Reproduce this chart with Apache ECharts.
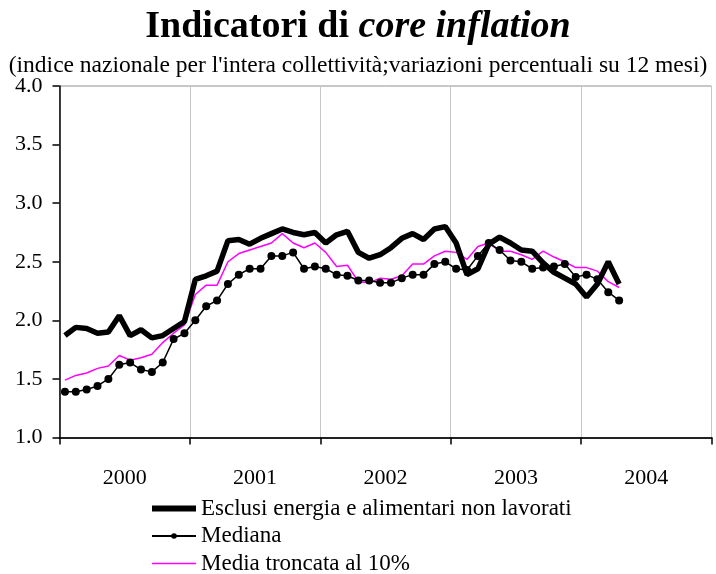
<!DOCTYPE html>
<html>
<head>
<meta charset="utf-8">
<script src="https://cdn.jsdelivr.net/npm/echarts@6/dist/echarts.min.js"></script>
<style>
  html, body { margin: 0; padding: 0; background: #fff; }
  #chart { width: 716px; height: 574px; }
</style>
</head>
<body>
<div id="chart"></div>
<script>
// monthly values, Jan 2000 - Apr 2004
const years = ['2000', '2001', '2002', '2003', '2004']
const yTicks = [1.0, 1.5, 2.0, 2.5, 3.0, 3.5, 4.0]

const esclusi = [
  1.87, 1.94, 1.93, 1.89, 1.90, 2.04, 1.87, 1.92, 1.85, 1.87, 1.93, 1.99,
  2.35, 2.38, 2.42, 2.68, 2.69, 2.65, 2.70, 2.74, 2.78, 2.75, 2.73, 2.75,
  2.66, 2.73, 2.76, 2.58, 2.53, 2.56, 2.62, 2.70, 2.74, 2.69, 2.78, 2.80,
  2.66, 2.39, 2.44, 2.65, 2.71, 2.66, 2.60, 2.59, 2.49, 2.41, 2.36, 2.31,
  2.20, 2.31, 2.50, 2.31
]
const mediana = [
  1.39, 1.39, 1.41, 1.44, 1.50, 1.62, 1.64, 1.58, 1.56, 1.64, 1.84, 1.89,
  2.00, 2.12, 2.17, 2.31, 2.39, 2.44, 2.44, 2.55, 2.55, 2.58, 2.44, 2.46,
  2.44, 2.39, 2.38, 2.34, 2.34, 2.32, 2.32, 2.36, 2.39, 2.39, 2.48, 2.50,
  2.44, 2.43, 2.55, 2.66, 2.60, 2.51, 2.50, 2.44, 2.45, 2.46, 2.48, 2.37,
  2.39, 2.35, 2.24, 2.17
]
const mediaTroncata = [
  1.49, 1.53, 1.55, 1.59, 1.61, 1.70, 1.66, 1.68, 1.71, 1.81, 1.89, 1.96,
  2.22, 2.30, 2.30, 2.50, 2.57, 2.60, 2.63, 2.66, 2.74, 2.66, 2.62, 2.66,
  2.58, 2.46, 2.47, 2.33, 2.32, 2.36, 2.35, 2.38, 2.48, 2.48, 2.55, 2.59,
  2.58, 2.52, 2.63, 2.66, 2.59, 2.59, 2.56, 2.52, 2.59, 2.54, 2.50, 2.45,
  2.45, 2.42, 2.33, 2.28
]

const serif = '"Liberation Serif", "Times New Roman", serif'

// month i sits in the middle of its slot on a 0..60 month scale
function toPoints(values) {
  return values.map((v, i) => [i + 0.5, v])
}

const chart = echarts.init(document.getElementById('chart'))

chart.setOption({
  backgroundColor: '#fff',
  animation: false,
  title: [
    {
      left: 'center',
      top: 3,
      text: '{b|Indicatori di }{bi|core inflation}',
      textStyle: {
        rich: {
          b: { fontFamily: serif, fontSize: 38, fontWeight: 'bold', color: '#000' },
          bi: { fontFamily: serif, fontSize: 38, fontWeight: 'bold', fontStyle: 'italic', color: '#000' },
        },
      },
    },
    {
      left: 'center',
      top: 49,
      text: "(indice nazionale per l'intera collettività;variazioni percentuali su 12 mesi)",
      textStyle: { fontFamily: serif, fontSize: 23.5, fontWeight: 'normal', color: '#000' },
    },
  ],
  legend: {
    orient: 'vertical',
    left: 151,
    top: 497,
    height: 100,
    padding: 0,
    itemWidth: 44,
    itemHeight: 7,
    itemGap: 4.5,
    data: [
      {
        name: 'Esclusi energia e alimentari non lavorati',
        icon: 'path://M0,0 M44,7 M0,0.5 L44,0.5 L44,6.5 L0,6.5 Z',
      },
      { name: 'Mediana' },
      {
        name: 'Media troncata al 10%',
        icon: 'path://M0,0 M44,7 M0,2.75 L44,2.75 L44,4.25 L0,4.25 Z',
      },
    ],
    textStyle: { fontFamily: serif, fontSize: 23, lineHeight: 22, color: '#000' },
  },
  grid: {
    left: 59.5,
    right: 4.5,
    top: 86,
    bottom: 136.5,
    show: true,
    borderColor: '#909090',
    borderWidth: 1,
  },
  xAxis: [
    {
      type: 'value',
      min: 0,
      max: 60,
      interval: 12,
      axisLine: { lineStyle: { color: '#222', width: 2 } },
      axisTick: { show: true, length: 7, lineStyle: { color: '#000', width: 1.5 } },
      axisLabel: { show: false },
      splitLine: { show: true, lineStyle: { color: '#c8c8c8', width: 1 } },
    },
    {
      type: 'category',
      position: 'bottom',
      offset: 0,
      data: years,
      axisLine: { show: false },
      axisTick: { show: false },
      splitLine: { show: false },
      axisLabel: { margin: 30, fontFamily: serif, fontSize: 22, color: '#000' },
    },
  ],
  yAxis: {
    type: 'value',
    min: yTicks[0],
    max: yTicks[yTicks.length - 1],
    interval: 0.5,
    axisLine: { show: true, lineStyle: { color: '#000', width: 1.5 } },
    axisTick: { show: true, length: 7, lineStyle: { color: '#000', width: 1.5 } },
    splitLine: { show: false },
    axisLabel: {
      margin: 17,
      fontFamily: serif,
      fontSize: 22,
      color: '#000',
      formatter: (v) => v.toFixed(1),
    },
  },
  series: [
    {
      name: 'Media troncata al 10%',
      type: 'line',
      data: toPoints(mediaTroncata),
      symbol: 'none',
      lineStyle: { color: '#ff00ff', width: 1.5 },
      itemStyle: { color: '#ff00ff' },
      z: 2,
    },
    {
      name: 'Mediana',
      type: 'line',
      data: toPoints(mediana),
      symbol: 'circle',
      symbolSize: 8,
      lineStyle: { color: '#000', width: 1.5 },
      itemStyle: { color: '#000' },
      z: 3,
    },
    {
      name: 'Esclusi energia e alimentari non lavorati',
      type: 'line',
      data: toPoints(esclusi),
      symbol: 'none',
      lineStyle: { color: '#000', width: 5.5 },
      itemStyle: { color: '#000' },
      z: 4,
    },
  ],
})
</script>
</body>
</html>
